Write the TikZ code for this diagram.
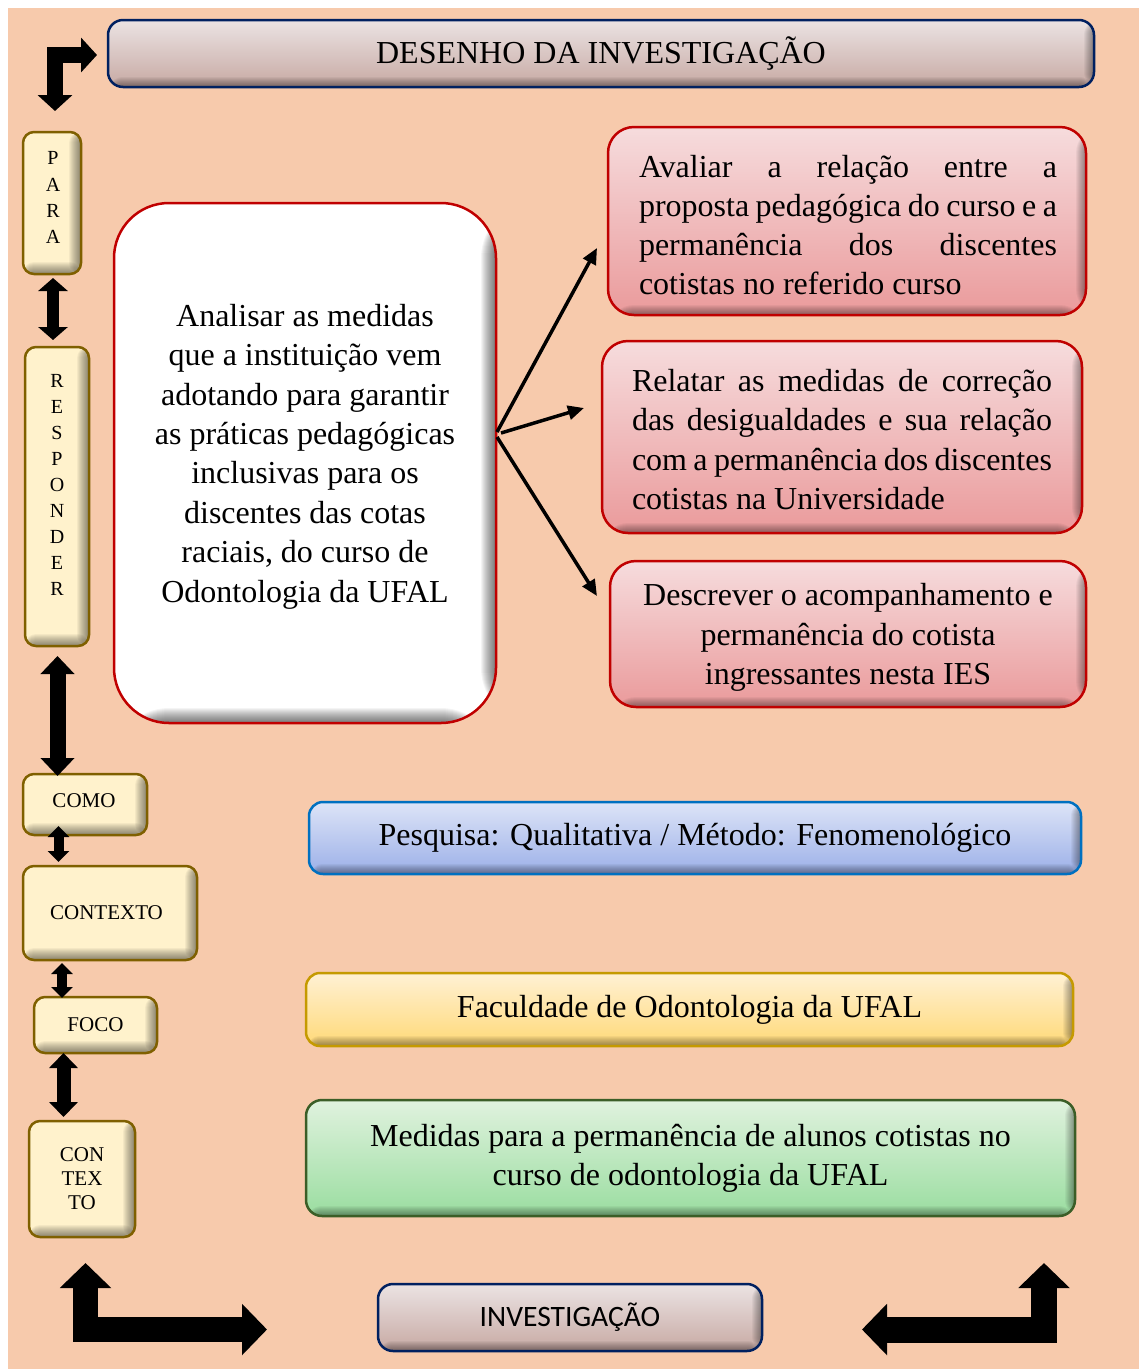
\documentclass[tikz,border=0pt]{standalone}
\usepackage{fontspec}
\setmainfont{Liberation Serif}
\newfontfamily\calib{Carlito}
\usetikzlibrary{arrows.meta,calc}
\definecolor{peach}{HTML}{F7CAAC}
\definecolor{creamf}{HTML}{FFF2CC}
\definecolor{creamd}{HTML}{7F6000}
\definecolor{redd}{HTML}{C00000}
\definecolor{redt}{HTML}{F6DCDD}
\definecolor{redb}{HTML}{EA9A9B}
\definecolor{navy}{HTML}{002060}
\definecolor{rost}{HTML}{EBE3E3}
\definecolor{rosb}{HTML}{C7A9A3}
\definecolor{bluet}{HTML}{DDE4F7}
\definecolor{blueb}{HTML}{9CB0E8}
\definecolor{blued}{HTML}{0070C0}
\definecolor{yelt}{HTML}{FFF1D4}
\definecolor{yelb}{HTML}{FFD978}
\definecolor{yeld}{HTML}{C59A00}
\definecolor{grnt}{HTML}{E0F2DE}
\definecolor{grnb}{HTML}{9ADDA0}
\definecolor{grnd}{HTML}{3B5E27}
\begin{document}
\begin{tikzpicture}[x=1pt,y=-1pt,
  bevel/.style={path picture={
    \foreach \i in {1,...,#1}{
      \fill[black,opacity=0.045] ([xshift=-\i pt]path picture bounding box.north east) rectangle (path picture bounding box.south east);
      \fill[black,opacity=0.045] ([yshift=\i pt]path picture bounding box.south west) rectangle (path picture bounding box.south east);
    }}},
  basebox/.style={rectangle, inner sep=0pt, line width=2.5pt},
  cream/.style={basebox, draw=creamd, fill=creamf, rounded corners=11pt, bevel=12,
     font=\fontsize{21}{24}\selectfont, align=center},
  creamtxt/.style={inner sep=0pt, font=\fontsize{21}{24}\selectfont, align=center},
  redbox/.style={basebox, draw=redd, top color=redt, bottom color=redb, rounded corners=26pt, bevel=10},
  redtxt/.style={font=\fontsize{32}{39.3}\selectfont, inner sep=0pt},
  rosebox/.style={basebox, draw=navy, top color=rost, bottom color=rosb, rounded corners=15pt, bevel=10},
  bigtxt/.style={font=\fontsize{32}{39.4}\selectfont, align=center, inner sep=0pt},
  lettxt/.style={font=\fontsize{20}{26.1}\selectfont, align=center, inner sep=0pt},
  conn/.style={line width=3.5pt, -{Triangle[length=16pt,width=14pt]}},
  dblarrow/.style n args={3}{line width=#1pt, {Triangle[width=#2pt,length=#3pt]}-{Triangle[width=#2pt,length=#3pt]}},
  bentarrow/.style n args={3}{line width=#1pt, line join=miter, {Triangle[width=#2pt,length=#3pt]}-{Triangle[width=#2pt,length=#3pt]}}
]
\useasboundingbox (0,0) rectangle (1139,1369);
\fill[white] (0,0) rectangle (1139,1369);
\fill[peach] (8,8) rectangle (1139,1369);

% title
\node[rosebox, minimum width=986pt, minimum height=67pt, font=\fontsize{32}{36}\selectfont] (title) at (601,53.5) {DESENHO DA INVESTIGAÇÃO};

% left column
\node[cream, minimum width=58pt, minimum height=142pt] (para) at (52,203) {};
\node[lettxt] (paratxt) at (53,197.5) {P\\A\\R\\A};
\node[cream, minimum width=64pt, minimum height=299pt] (resp) at (57,496.5) {};
\node[lettxt] (resptxt) at (57,485) {R\\E\\S\\P\\O\\N\\D\\E\\R};
\node[cream, minimum width=124pt, minimum height=61pt] (como) at (85,804.5) {};
\node[creamtxt] (comotxt) at (84,801) {COMO};
\node[cream, minimum width=174pt, minimum height=94pt] (contexto) at (110,913) {};
\node[creamtxt] (contextotxt) at (106.5,912.5) {CONTEXTO};
\node[cream, minimum width=123pt, minimum height=56pt] (foco) at (95.5,1025) {FOCO};
\node[cream, minimum width=106pt, minimum height=116pt] (contexto2) at (82,1179) {CON\\TEX\\TO};

% main box
\node[basebox, draw=redd, fill=white, rounded corners=55pt, bevel=15, minimum width=382pt, minimum height=520pt] (main) at (305,463) {};
\node[bigtxt] (maintxt) at (305,456.5) {Analisar as medidas\\que a instituição vem\\adotando para garantir\\as práticas pedagógicas\\inclusivas para os\\discentes das cotas\\raciais, do curso de\\Odontologia da UFAL};

% red boxes
\node[redbox, minimum width=478pt, minimum height=188pt] (r1) at (847,221) {};
\node[redtxt, align=left] (r1txt) at (848,225)
 {\makebox[418pt][s]{Avaliar a relação entre a}\\
  \makebox[418pt][s]{proposta pedagógica do curso e a}\\
  \makebox[418pt][s]{permanência dos discentes}\\
  cotistas no referido curso};
\node[redbox, minimum width=480pt, minimum height=192pt] (r2) at (842,437) {};
\node[redtxt, align=left] (r2txt) at (842,439.5)
 {\makebox[420pt][s]{Relatar as medidas de correção}\\
  \makebox[420pt][s]{das desigualdades e sua relação}\\
  \makebox[420pt][s]{com a permanência dos discentes}\\
  cotistas na Universidade};
\node[redbox, minimum width=476pt, minimum height=146pt] (r3) at (848,634) {};
\node[redtxt, align=center] (r3txt) at (848,637.5)
 {Descrever o acompanhamento e\\permanência do cotista\\ingressantes nesta IES};

% arrows from main box
\coordinate (o1) at (497,432);
\coordinate (o2) at (501,433);
\coordinate (o3) at (497,437);
\coordinate (t1) at (597,248);
\coordinate (t2) at (584,408);
\coordinate (t3) at (597,596);
\draw[conn] (o1) -- (t1);
\draw[conn] (o2) -- (t2);
\draw[conn] (o3) -- (t3);

% right boxes
\node[basebox, draw=blued, top color=bluet, bottom color=blueb, rounded corners=14pt, bevel=10,
  minimum width=772pt, minimum height=72pt, font=\fontsize{32}{36}\selectfont] (pesq) at (695,838)
  {Pesquisa: Qualitativa / Método: Fenomenológico};
\node[basebox, draw=yeld, top color=yelt, bottom color=yelb, rounded corners=14pt, bevel=10,
  minimum width=767pt, minimum height=73pt, font=\fontsize{32}{36}\selectfont] (fac) at (689.5,1009.5)
  {Faculdade de Odontologia da UFAL};
\node[basebox, draw=grnd, top color=grnt, bottom color=grnb, rounded corners=16pt, bevel=10,
  minimum width=769pt, minimum height=116pt, font=\fontsize{32}{39}\selectfont, align=center] (med) at (690.5,1158)
  {Medidas para a permanência de alunos cotistas no\\curso de odontologia da UFAL};

% bottom box
\node[rosebox, minimum width=384pt, minimum height=67pt, font=\calib\fontsize{29.6}{32}\selectfont] (inv) at (570,1317.5) {INVESTIGAÇÃO};

% vertical double arrows
\coordinate (a1s) at (53,278); \coordinate (a1e) at (53,340);
\coordinate (a2s) at (57.5,656); \coordinate (a2e) at (57.5,776);
\coordinate (a3s) at (58.5,826); \coordinate (a3e) at (58.5,862);
\coordinate (a4s) at (62,963); \coordinate (a4e) at (62,998);
\coordinate (a5s) at (63.5,1053); \coordinate (a5e) at (63.5,1117);
\draw[dblarrow={12}{29}{13}] (a1s) -- (a1e);
\draw[dblarrow={16}{33}{18}] (a2s) -- (a2e);
\draw[dblarrow={10}{21}{11}] (a3s) -- (a3e);
\draw[dblarrow={10}{21}{11}] (a4s) -- (a4e);
\draw[dblarrow={14}{28}{15}] (a5s) -- (a5e);

% bent block arrows
\coordinate (tl1) at (55,111); \coordinate (tlc) at (55,55); \coordinate (tl2) at (97,55);
\draw[bentarrow={16}{34}{16}] (tl1) -- (tlc) -- (tl2);
\coordinate (bl1) at (85.5,1263); \coordinate (blc) at (85.5,1329.5); \coordinate (bl2) at (267,1329.5);
\draw[bentarrow={25}{50}{25}] (bl1) -- (blc) -- (bl2);
\coordinate (br1) at (1044,1263); \coordinate (brc) at (1044,1329.5); \coordinate (br2) at (862,1329.5);
\draw[bentarrow={26}{50}{25}] (br1) -- (brc) -- (br2);
\end{tikzpicture}
\end{document}
